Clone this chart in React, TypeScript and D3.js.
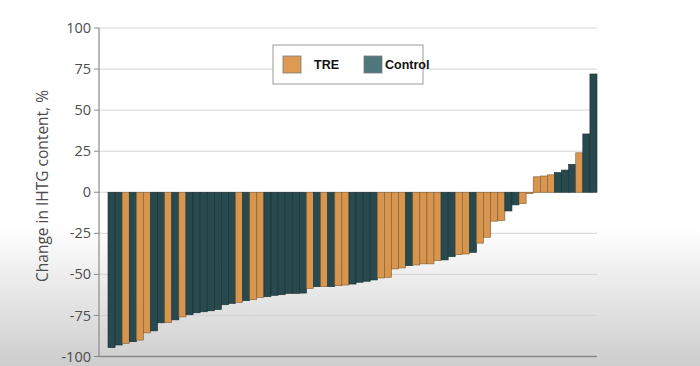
import React from 'react';
import * as d3 from 'd3';

// waterfall: one bar per participant, sorted by change
const groups = [
  'C', 'C', 'T', 'C', 'T', 'T', 'C', 'C', 'T', 'C',
  'T', 'C', 'C', 'C', 'C', 'C', 'C', 'C', 'T', 'C',
  'T', 'T', 'C', 'C', 'C', 'C', 'C', 'C', 'T', 'C',
  'T', 'C', 'T', 'T', 'C', 'C', 'C', 'C', 'T', 'T',
  'T', 'T', 'C', 'T', 'T', 'T', 'T', 'C', 'C', 'T',
  'T', 'C', 'T', 'T', 'T', 'T', 'C', 'C', 'T', 'T',
  'T', 'T', 'T', 'C', 'C', 'C', 'T', 'C', 'C',
];
const changes = [
  -94.6, -93, -92, -91, -90, -85.6, -84.4, -79.5, -79.3, -77.7,
  -75.9, -74.6, -73.4, -72.8, -72.2, -71.4, -68.5, -67.7, -67.1, -66,
  -65.4, -64, -63.6, -62.8, -62.4, -61.6, -61.6, -61.4, -58.5, -57.5,
  -57.5, -57.5, -56.9, -56.5, -55.9, -54.8, -54.2, -53.4, -52.2, -51.8,
  -46.7, -46.1, -44.7, -44.3, -43.6, -43.6, -41.6, -41.2, -39.2, -38,
  -37.6, -36.6, -31, -27.4, -17.6, -17.2, -11.4, -7.7, -6.9, -0.8,
  9.4, 9.9, 10.6, 12, 13.5, 17, 24, 35.5, 72,
];
const yTicks = [100, 75, 50, 25, 0, -25, -50, -75, -100];
const legendItems = [
  { key: 'T', label: 'TRE' },
  { key: 'C', label: 'Control' },
];

const fill: Record<string, string> = { T: '#d6964f', C: '#284a4f' };
const edge: Record<string, string> = { T: '#86592c', C: '#172d30' };
const swatch: Record<string, string> = { T: '#dc9a52', C: '#4f777c' };

export default function App() {
  const width = 700;
  const height = 366;

  const x = d3.scaleBand<number>()
    .domain(changes.map((_, i) => i))
    .range([108, 597])
    .padding(0);

  const y = d3.scaleLinear().domain([-100, 100]).range([356.5, 28]);

  return (
    <svg width={width} height={height}
      style={{ position: 'absolute', left: 0, top: 0, background: '#fff' }}>
      <defs>
        <linearGradient id="bg" x1="0" y1="0" x2="0" y2="1">
          <stop offset="0" stopColor="#ffffff" />
          <stop offset="0.62" stopColor="#ffffff" />
          <stop offset="1" stopColor="#cdcdcd" />
        </linearGradient>
      </defs>
      <rect width={width} height={height} fill="url(#bg)" />

      {/* gridlines */}
      {yTicks.map(t => (
        <line key={t} x1={99} x2={597} y1={y(t)} y2={y(t)}
          stroke={t === -100 ? '#8a8a8a' : '#d4d4d4'} strokeWidth={t === -100 ? 1.5 : 1} />
      ))}

      {/* y axis */}
      <line x1={99} x2={99} y1={y(100)} y2={y(-100)} stroke="#8a8a8a" strokeWidth={1.2} />
      {yTicks.map(t => (
        <g key={'t' + t} transform={`translate(0,${y(t)})`}>
          <line x1={94} x2={99} stroke="#8a8a8a" />
          <text x={91} dy="0.35em" textAnchor="end" fontFamily="'Open Sans', sans-serif"
            fontSize={14.5} fill="#4d4d4d">{t}</text>
        </g>
      ))}
      <text transform={`translate(48,186) rotate(-90)`} textAnchor="middle"
        fontFamily="'Open Sans', sans-serif" fontSize={15.5} fill="#4d4d4d">
        Change in IHTG content, %
      </text>

      {/* bars */}
      {changes.map((v, i) => (
        <rect key={i} x={x(i)} width={x.bandwidth()}
          y={y(Math.max(0, v))} height={Math.abs(y(v) - y(0))}
          fill={fill[groups[i]]} stroke={edge[groups[i]]} strokeWidth={0.6} />
      ))}

      {/* legend */}
      <rect x={273} y={45} width={150} height={39} fill="#fff" stroke="#9a9a9a" strokeWidth={1} />
      {legendItems.map((d, i) => (
        <g key={d.key} transform={`translate(${283 + i * 81},56)`}>
          <rect width={18} height={17} fill={swatch[d.key]} stroke="#7a7a7a" strokeWidth={0.8} />
          <text x={i === 0 ? 31 : 21} y={13} fontFamily="'Liberation Sans', Arial, sans-serif"
            fontWeight="bold" fontSize={12.5} fill="#111">{d.label}</text>
        </g>
      ))}
    </svg>
  );
}
